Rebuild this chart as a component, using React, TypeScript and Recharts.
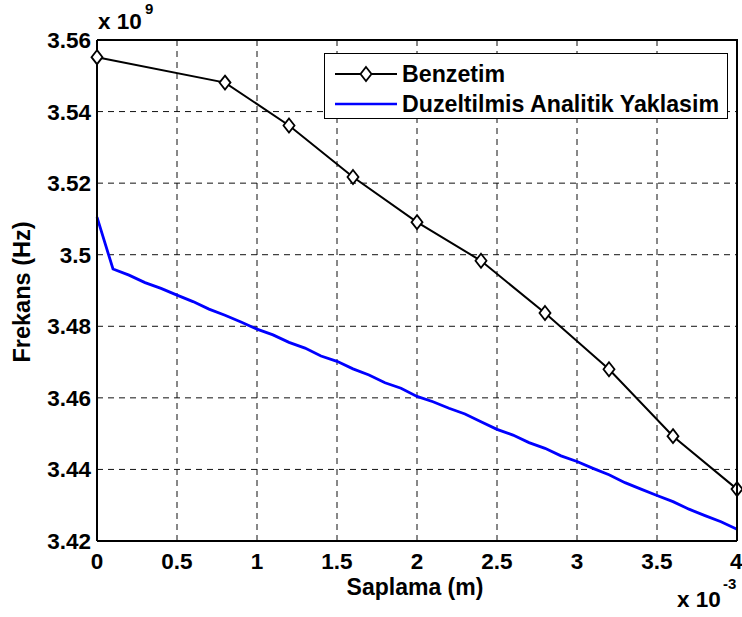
import React from "react";
import {
  LineChart,
  Line,
  XAxis,
  YAxis,
  CartesianGrid,
  Legend,
} from "recharts";

// x in units of 1e-3 m, frequency in units of 1e9 Hz
const simX = [0, 0.8, 1.2, 1.6, 2.0, 2.4, 2.8, 3.2, 3.6, 4.0];
const simFreq = [3.5552, 3.5481, 3.5361, 3.5217, 3.5091, 3.4983, 3.4837, 3.468, 3.4493, 3.4345];

const analyticX = [
  0, 0.1, 0.2, 0.3, 0.4, 0.5, 0.6, 0.7, 0.8, 0.9, 1.0, 1.1, 1.2, 1.3, 1.4,
  1.5, 1.6, 1.7, 1.8, 1.9, 2.0, 2.1, 2.2, 2.3, 2.4, 2.5, 2.6, 2.7, 2.8, 2.9,
  3.0, 3.1, 3.2, 3.3, 3.4, 3.5, 3.6, 3.7, 3.8, 3.9, 4.0,
];
const analyticFreq = [
  3.5105, 3.496, 3.4943, 3.4922, 3.4906, 3.4887, 3.4869, 3.4848, 3.4831,
  3.4812, 3.4792, 3.4776, 3.4755, 3.4739, 3.4717, 3.4702, 3.4681, 3.4664,
  3.4642, 3.4627, 3.4604, 3.4589, 3.4571, 3.4555, 3.4533, 3.4512, 3.4496,
  3.4475, 3.4459, 3.4438, 3.4422, 3.4403, 3.4385, 3.4363, 3.4345, 3.4327,
  3.431, 3.4289, 3.4271, 3.4254, 3.4233,
];

const xTicks = [0, 0.5, 1, 1.5, 2, 2.5, 3, 3.5, 4];
const yTicks = [3.42, 3.44, 3.46, 3.48, 3.5, 3.52, 3.54, 3.56];
const xDomain = [0, 4];
const yDomain = [3.42, 3.56];

const SIM_NAME = "Benzetim";
const ANALYTIC_NAME = "Duzeltilmis Analitik Yaklasim";

const simData = simX.map((x, i) => ({ x, y: simFreq[i] }));
const analyticData = analyticX.map((x, i) => ({ x, y: analyticFreq[i] }));

// chart box
const W = 742;
const H = 617;
const M = { top: 40, right: 5, left: 97, bottom: 76 };

const FONT = "'Liberation Sans', Arial, Helvetica, sans-serif";
const tickStyle = { fill: "#000", fontSize: 22.5, fontWeight: 700, fontFamily: FONT };
const frameLine = { stroke: "#000", strokeWidth: 2 };

const Diamond = (props: any) => {
  const { cx, cy, index } = props;
  if (cx == null || cy == null) return <g key={index} />;
  return (
    <polygon
      key={index}
      points={`${cx},${cy - 7} ${cx + 5.5},${cy} ${cx},${cy + 7} ${cx - 5.5},${cy}`}
      fill="#fff"
      stroke="#000"
      strokeWidth={1.8}
    />
  );
};

function LegendBox() {
  return (
    <div
      style={{
        width: 404,
        height: 66,
        border: "1.5px solid #000",
        background: "#fff",
        fontFamily: FONT,
        fontWeight: 700,
        fontSize: 23.2,
        boxSizing: "border-box",
      }}
    >
      <div style={{ display: "flex", alignItems: "center", height: 22, marginTop: 9 }}>
        <svg width={62} height={18} style={{ marginLeft: 10, marginRight: 5 }}>
          <line x1={0} y1={9} x2={62} y2={9} stroke="#000" strokeWidth={2} />
          <polygon points="31,2 36.5,9 31,16 25.5,9" fill="#fff" stroke="#000" strokeWidth={1.8} />
        </svg>
        <span>{SIM_NAME}</span>
      </div>
      <div style={{ display: "flex", alignItems: "center", height: 22, marginTop: 8 }}>
        <svg width={62} height={18} style={{ marginLeft: 10, marginRight: 5 }}>
          <line x1={0} y1={9} x2={62} y2={9} stroke="#0000ff" strokeWidth={2.5} />
        </svg>
        <span>{ANALYTIC_NAME}</span>
      </div>
    </div>
  );
}

export default function App() {
  return (
    <div style={{ position: "absolute", left: 0, top: 0, width: W, height: H, background: "#fff" }}>
      <LineChart
        width={W}
        height={H}
        data={analyticData}
        margin={{ top: M.top, right: M.right, bottom: 0, left: 0 }}
      >
        <CartesianGrid stroke="#111" strokeDasharray="6 5" strokeWidth={1} />
        <XAxis
          dataKey="x"
          type="number"
          domain={xDomain}
          ticks={xTicks}
          height={M.bottom}
          axisLine={frameLine}
          tickLine={false}
          tickSize={0}
          tickMargin={12}
          tick={tickStyle}
          tickFormatter={(v: number) => String(v)}
        />
        <YAxis
          type="number"
          domain={yDomain}
          ticks={yTicks}
          width={M.left}
          axisLine={frameLine}
          tickLine={false}
          tickSize={0}
          tickMargin={6}
          tick={tickStyle}
          tickFormatter={(v: number) => String(+v.toFixed(2))}
        />
        <Line
          dataKey="y"
          name={ANALYTIC_NAME}
          stroke="#0000ff"
          strokeWidth={2.8}
          dot={false}
          isAnimationActive={false}
        />
        <Line
          data={simData}
          dataKey="y"
          name={SIM_NAME}
          stroke="#000"
          strokeWidth={2}
          dot={Diamond}
          isAnimationActive={false}
        />
        <Legend
          layout="vertical"
          align="center"
          verticalAlign="middle"
          content={() => <LegendBox />}
          wrapperStyle={{ left: 324, top: 53, width: 404, height: 66 }}
        />
      </LineChart>
      {/* overlay: axes box and the MATLAB-style labels */}
      <svg
        width={W}
        height={H}
        style={{ position: "absolute", left: 0, top: 0, pointerEvents: "none", zIndex: 5 }}
        fontFamily={FONT}
        fontWeight={700}
      >
        <path
          d={`M${M.left},${M.top} H${W - M.right} V${H - M.bottom}`}
          fill="none"
          stroke="#000"
          strokeWidth={2}
        />
        <text x={22} y={292} fontSize={23.5} textAnchor="middle" dominantBaseline="central" transform="rotate(-90 22 292)">
          Frekans (Hz)
        </text>
        <text x={415} y={595} fontSize={23} textAnchor="middle">
          Saplama (m)
        </text>
        <text x={98} y={29} fontSize={22.5}>x 10</text>
        <text x={145} y={14} fontSize={15}>9</text>
        <text x={677} y={607} fontSize={22.5}>x 10</text>
        <text x={723} y={589} fontSize={15}>-3</text>
      </svg>
    </div>
  );
}
